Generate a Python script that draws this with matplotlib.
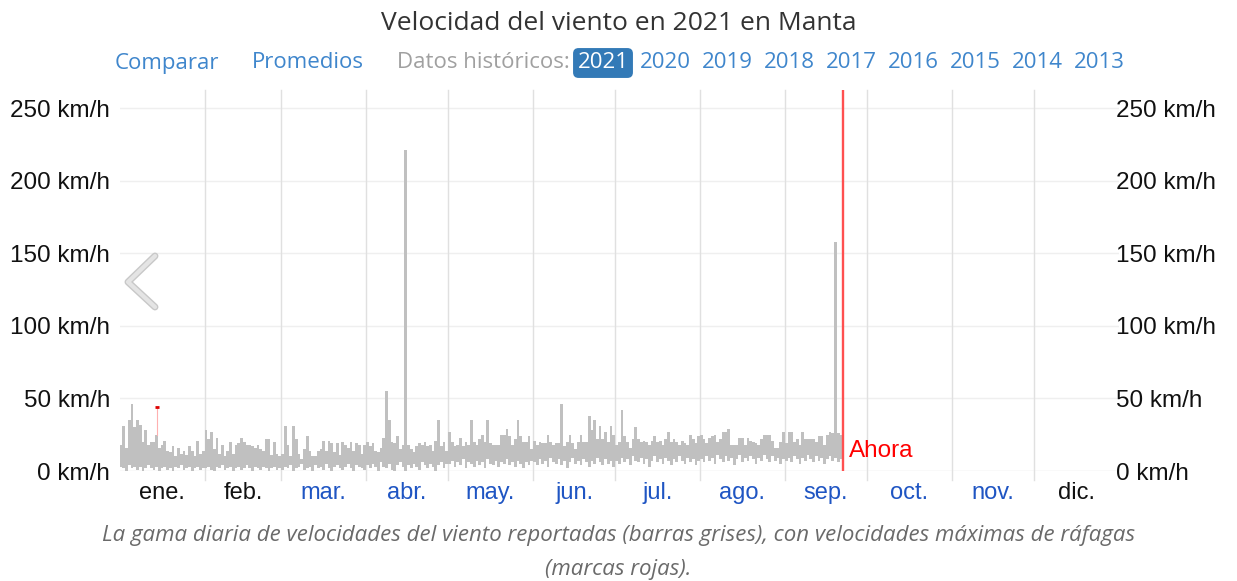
import numpy as np
import matplotlib
matplotlib.use("Agg")
import matplotlib.pyplot as plt
from matplotlib.lines import Line2D

# daily wind speed range (km/h), Jan 1 .. Sep 21 2021
jan_high = [18, 31, 16, 35, 46, 30, 35, 32, 20, 28, 18, 20, 20, 25, 16, 18, 21, 14, 13, 17, 10, 16, 12, 14, 11, 17, 14, 10, 21, 12, 14]
jan_low = [3, 2, 0, 4, 2, 3, 1, 3, 0, 2, 4, 2, 1, 3, 0, 2, 3, 1, 2, 0, 3, 2, 4, 1, 2, 3, 0, 2, 3, 1, 2]
feb_high = [28, 22, 27, 15, 23, 12, 18, 10, 14, 20, 12, 18, 19, 23, 20, 18, 18, 17, 16, 18, 15, 14, 22, 22, 11, 20, 12, 10]
feb_low = [2, 3, 1, 0, 3, 2, 4, 1, 2, 3, 0, 2, 3, 1, 2, 4, 2, 0, 3, 2, 1, 3, 2, 0, 2, 3, 1, 2]
mar_high = [12, 31, 18, 10, 31, 22, 12, 8, 15, 24, 14, 10, 10, 14, 15, 21, 14, 21, 19, 13, 19, 11, 20, 18, 16, 20, 14, 19, 18, 12, 18]
mar_low = [1, 3, 2, 4, 0, 2, 3, 5, 1, 2, 3, 0, 4, 2, 3, 1, 5, 2, 0, 3, 4, 2, 1, 3, 5, 2, 0, 4, 3, 2, 1]
apr_high = [20, 17, 19, 14, 13, 16, 23, 55, 35, 20, 19, 24, 15, 18, 221, 18, 15, 13, 17, 19, 18, 20, 17, 18, 14, 21, 35, 17, 20, 14]
apr_low = [4, 2, 5, 3, 0, 6, 3, 2, 5, 1, 0, 4, 6, 3, 0, 4, 2, 5, 3, 1, 6, 4, 2, 5, 3, 0, 4, 6, 2, 5]
may_high = [27, 20, 17, 18, 23, 17, 20, 18, 35, 20, 18, 22, 25, 20, 35, 19, 18, 18, 18, 25, 25, 29, 24, 18, 22, 35, 24, 20, 20, 24, 15]
may_low = [5, 7, 3, 6, 4, 8, 2, 6, 5, 3, 7, 4, 6, 2, 8, 5, 4, 7, 3, 6, 5, 8, 4, 6, 3, 7, 5, 2, 6, 4, 7]
jun_high = [21, 18, 20, 19, 19, 25, 20, 18, 19, 19, 46, 17, 20, 25, 19, 15, 20, 25, 20, 20, 38, 28, 35, 22, 31, 22, 27, 20, 31, 25]
jun_low = [6, 4, 8, 5, 7, 3, 9, 6, 5, 8, 4, 7, 2, 6, 9, 5, 7, 4, 8, 6, 3, 7, 5, 9, 6, 4, 8, 5, 7, 3]
jul_high = [18, 20, 42, 24, 20, 16, 22, 30, 22, 20, 21, 20, 18, 21, 24, 20, 21, 18, 22, 27, 20, 22, 20, 18, 21, 19, 18, 25, 22, 19, 24]
jul_low = [7, 5, 9, 6, 8, 4, 10, 7, 6, 9, 5, 8, 3, 7, 10, 6, 8, 5, 9, 7, 4, 8, 6, 10, 7, 5, 9, 6, 8, 4, 7]
aug_high = [25, 22, 19, 23, 24, 25, 20, 22, 27, 27, 29, 18, 18, 18, 23, 23, 18, 23, 21, 20, 19, 18, 22, 25, 25, 25, 21, 16, 16, 20, 27]
aug_low = [8, 6, 10, 7, 9, 5, 11, 8, 6, 10, 7, 9, 4, 8, 11, 6, 9, 7, 10, 8, 5, 9, 7, 11, 8, 6, 10, 7, 9, 5, 8]
sep_high = [19, 27, 27, 20, 22, 18, 27, 22, 22, 22, 22, 20, 24, 24, 18, 25, 27, 26, 158, 26, 25]
sep_low = [7, 9, 6, 10, 8, 5, 9, 7, 11, 8, 6, 10, 7, 9, 5, 8, 10, 7, 9, 6, 8]

gust_day = [13]
gust_val = [44]
now_day = 264.2

months = ["ene.", "feb.", "mar.", "abr.", "may.", "jun.", "jul.", "ago.", "sep.", "oct.", "nov.", "dic."]
month_len = [31, 28, 31, 30, 31, 30, 31, 31, 30, 31, 30, 31]
yticks = [0, 50, 100, 150, 200, 250]
years = ["2020", "2019", "2018", "2017", "2016", "2015", "2014", "2013"]

high = np.array(jan_high + feb_high + mar_high + apr_high + may_high + jun_high + jul_high + aug_high + sep_high)
low = np.array(jan_low + feb_low + mar_low + apr_low + may_low + jun_low + jul_low + aug_low + sep_low)
days = np.arange(len(high))

W, H = 1237, 581
fig = plt.figure(figsize=(W / 100, H / 100), dpi=100)
def fx(x): return x / W
def fy(y): return 1 - y / H

ax = fig.add_axes([fx(119.7), fy(471), fx(1118.8) - fx(119.7), fy(90) - fy(471)])
ax.set_xlim(0, 365)
ax.set_ylim(0, 262.4)

# grid
for v in yticks:
    ax.axhline(v, color="#efefef" if v else "#e2e2e2", lw=1, zorder=0)
starts = np.cumsum([0] + month_len)
for s in starts[1:-1]:
    ax.axvline(s, ymin=-9 / 381, ymax=1, color="#e0e0e0", lw=1, zorder=0, clip_on=False)

ax.bar(days, high - low, bottom=low, width=1, align="edge", color="#c0c0c0", lw=0, zorder=2)

# gusts
for d, g in zip(gust_day, gust_val):
    ax.plot([d + 0.5, d + 0.5], [high[d], g], color="#ffb0b0", lw=0.8, zorder=3)
    ax.plot([d + 0.5], [g], marker="_", ms=2.5, mew=2, color="#dd0000", zorder=4)

ax.axvline(now_day, color="#ff5050", lw=1.7, zorder=5)
ax.text(now_day + 2.3, 14, "Ahora", color="#ff0000", fontsize=17.5, family="Liberation Sans",
        va="center", ha="left")

for sp in ax.spines.values():
    sp.set_visible(False)

centers = starts[:-1] + np.array(month_len) / 2
ax.set_xticks(centers)
ax.set_xticklabels(months, fontsize=17, family="Liberation Sans")
mcolors = ["#111111", "#111111"] + ["#1f55c3"] * 9 + ["#111111"]
for lab, c in zip(ax.get_xticklabels(), mcolors):
    lab.set_color(c)
ax.set_yticks(yticks)
ylabels = [f"{v} km/h" for v in yticks]
ax.set_yticklabels(ylabels, fontsize=17.5, family="Liberation Sans")
ax.tick_params(axis="x", length=0, pad=8)
ax.tick_params(axis="y", length=0, pad=7, colors="#111111")

ax2 = ax.twinx()
ax2.set_ylim(ax.get_ylim())
ax2.set_yticks(yticks)
ax2.set_yticklabels(ylabels, fontsize=17.5, family="Liberation Sans")
ax2.tick_params(axis="y", length=0, pad=-2, colors="#111111")
for sp in ax2.spines.values():
    sp.set_visible(False)

# header
fig.text(0.5, fy(23), "Velocidad del viento en 2021 en Manta", ha="center", va="center",
         fontsize=19, family="Open Sans", color="#333333")
link = "#3f86cc"
hs = 16
hy = fy(63)
fig.text(fx(115), hy, "Comparar", ha="left", va="center", fontsize=hs, family="Open Sans", color=link)
fig.text(fx(252), hy, "Promedios", ha="left", va="center", fontsize=hs, family="Open Sans", color=link)
fig.text(fx(397), hy, "Datos históricos:", ha="left", va="center", fontsize=hs, family="Open Sans", color="#a0a0a0")
fig.text(fx(603), hy, "2021", ha="center", va="center", fontsize=hs, family="Open Sans", color="white",
         bbox=dict(boxstyle="round,pad=0.2,rounding_size=0.25", fc="#337ab7", ec="none"))
for i, y in enumerate(years):
    fig.text(fx(665.5 + 62 * i), hy, y, ha="center", va="center", fontsize=hs, family="Open Sans", color=link)

# left arrow
fig.add_artist(Line2D([fx(155), fx(128), fx(155)], [fy(256), fy(282), fy(307)], color="#c8c8c8",
                      lw=5, solid_capstyle="round", solid_joinstyle="round"))
fig.add_artist(Line2D([fx(155), fx(128), fx(155)], [fy(256), fy(282), fy(307)], color="#e4e4e4",
                      lw=3, solid_capstyle="round", solid_joinstyle="round"))

# caption
fig.text(0.5, fy(535), "La gama diaria de velocidades del viento reportadas (barras grises), con velocidades máximas de ráfagas",
         ha="center", va="center", fontsize=16, family="Open Sans", style="italic", color="#6a6a6a")
fig.text(0.5, fy(569), "(marcas rojas).", ha="center", va="center", fontsize=16, family="Open Sans",
         style="italic", color="#6a6a6a")

fig.savefig("out.png", dpi=100)
